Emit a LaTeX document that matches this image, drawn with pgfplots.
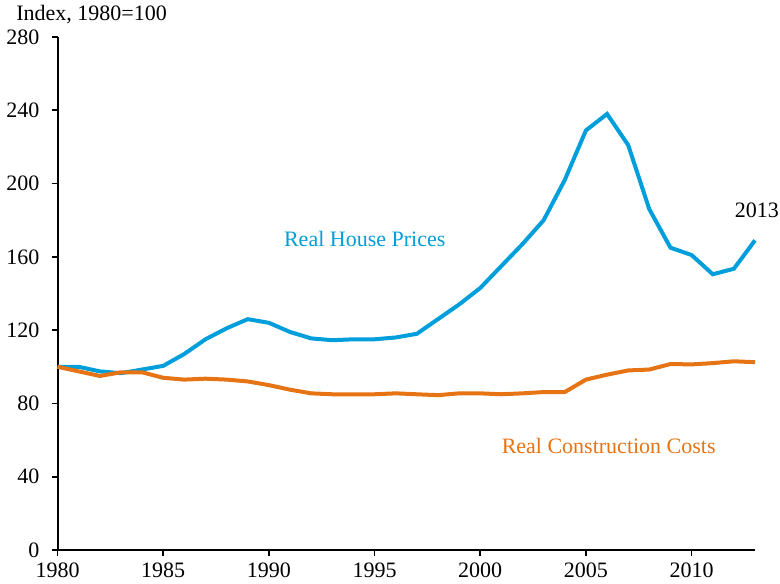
\documentclass[border=0pt]{standalone}
\usepackage{fontspec}
\setmainfont{Liberation Serif}
\usepackage{pgfplots}
\pgfplotsset{compat=1.18}
\definecolor{hblue}{RGB}{0,158,219}
\definecolor{corange}{RGB}{230,115,20}
\begin{document}
\begin{tikzpicture}
\begin{axis}[
  scale only axis,
  width=348.75pt, height=256.5pt,
  xmin=1980, xmax=2013, ymin=0, ymax=280,
  axis x line*=bottom, axis y line*=left,
  axis line style={line width=1pt, -},
  xtick={1980,1985,...,2010}, ytick={0,40,...,280},
  tick align=outside, major tick length=3pt,
  tick style={line width=0.8pt, black},
  xticklabel style={/pgf/number format/1000 sep={}},
  yticklabel style={xshift=-2.5pt},
  /pgf/number format/assume math mode=true,
  tick label style={font=\fontsize{11}{13}\selectfont},
  clip=false,
]
\addplot[hblue, line width=2pt] coordinates {
(1980,100) (1981,100) (1982,97.5) (1983,96.5) (1984,98.5) (1985,100.5)
(1986,107) (1987,115) (1988,121) (1989,126) (1990,124) (1991,119)
(1992,115.5) (1993,114.5) (1994,115) (1995,115) (1996,116) (1997,118)
(1998,126) (1999,134) (2000,143) (2001,155) (2002,167) (2003,180)
(2004,202) (2005,229) (2006,238) (2007,221) (2008,186) (2009,165)
(2010,161) (2011,150.5) (2012,153.5) (2013,169)};
\addplot[corange, line width=2pt] coordinates {
(1980,100) (1981,97.5) (1982,95) (1983,97) (1984,97) (1985,94)
(1986,93) (1987,93.5) (1988,93) (1989,92) (1990,90) (1991,87.5)
(1992,85.5) (1993,85) (1994,85) (1995,85) (1996,85.5) (1997,85)
(1998,84.5) (1999,85.5) (2000,85.5) (2001,85) (2002,85.5) (2003,86.2)
(2004,86.2) (2005,93) (2006,95.7) (2007,98) (2008,98.5) (2009,101.5)
(2010,101.3) (2011,102) (2012,103) (2013,102.5)};
\node[anchor=base west, inner sep=0pt, text=hblue, font=\fontsize{11}{13}\selectfont] at (axis cs:1990.7,165.6) {Real House Prices};
\node[anchor=base west, inner sep=0pt, text=corange, font=\fontsize{11}{13}\selectfont] at (axis cs:2001.0,52.9) {Real Construction Costs};
\node[anchor=base west, inner sep=0pt, font=\fontsize{11}{13}\selectfont] at (axis cs:2012.03,181.4) {2013};
\node[anchor=base west, inner sep=0pt, font=\fontsize{11}{13}\selectfont] at ([xshift=-20.75pt,yshift=8.15pt]rel axis cs:0,1) {Index, 1980=100};
\coordinate (O) at (rel axis cs:0,0);
\end{axis}
\pgfresetboundingbox
\path ([xshift=-28.75pt,yshift=-16.5pt]O) rectangle ++(390pt,291.5pt);
\end{tikzpicture}
\end{document}
